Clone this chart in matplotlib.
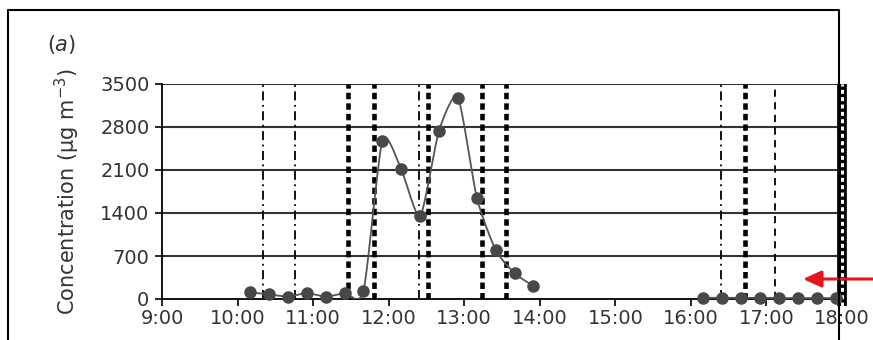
import matplotlib
matplotlib.use("Agg")
import matplotlib.pyplot as plt
from matplotlib.lines import Line2D
import numpy as np

# sample times (hours) and concentrations (ug m-3)
am_times = [10 + 10/60, 10 + 25/60, 10 + 40/60, 10 + 55/60, 11 + 10/60, 11 + 25/60,
            11 + 40/60, 11 + 55/60, 12 + 10/60, 12 + 25/60, 12 + 40/60, 12 + 55/60,
            13 + 10/60, 13 + 25/60, 13 + 40/60, 13 + 55/60]
am_conc = [110, 75, 40, 95, 40, 95, 130, 2580, 2110, 1350, 2740, 3280, 1650, 800, 420, 210]

pm_times = [16 + 10/60, 16 + 25/60, 16 + 40/60, 16 + 55/60, 17 + 10/60, 17 + 25/60,
            17 + 40/60, 17 + 55/60]
pm_conc = [20, 20, 20, 20, 15, 15, 15, 15]

# event markers
thin_events = [10 + 20/60, 10 + 46/60, 12 + 24/60, 16 + 24/60]
thick_events = [11 + 28/60, 11 + 48/60, 12 + 31/60, 13 + 14/60, 13 + 33/60, 16 + 43/60]
dashed_events = [17 + 7/60]
end_event = 18.0

x_ticks = list(range(9, 19))
x_labels = ["%d:00" % h for h in x_ticks]
y_ticks = [0, 700, 1400, 2100, 2800, 3500]

TXT = "#333333"


def smooth(xs, ys, n=20, k=9.0):
    # bezier smoothing like a spreadsheet "smoothed line"
    p = np.column_stack([xs, ys]).astype(float)
    p = np.vstack([p[0], p, p[-1]])
    out = []
    for i in range(1, len(p) - 2):
        p0, p1, p2, p3 = p[i - 1], p[i], p[i + 1], p[i + 2]
        c1 = p1 + (p2 - p0) / k
        c2 = p2 - (p3 - p1) / k
        t = np.linspace(0, 1, n)[:, None]
        seg = ((1 - t) ** 3) * p1 + 3 * ((1 - t) ** 2) * t * c1 + 3 * (1 - t) * t ** 2 * c2 + t ** 3 * p2
        out.append(seg)
    out = np.vstack(out)
    return out[:, 0], out[:, 1]


fig = plt.figure(figsize=(8.73, 3.4), dpi=100)
ax = fig.add_axes([162 / 873, 1 - 299 / 340, 680 / 873, 215 / 340])

for v in y_ticks[1:]:
    ax.axhline(v, color="#333333", lw=1.5, zorder=1)

for t in thin_events:
    ax.axvline(t, color="black", lw=1.3, linestyle=(0, (5, 2.5, 1, 2.5)), zorder=2)
for t in thick_events:
    ax.axvline(t, color="black", lw=3.3, linestyle=(0, (1.4, 0.9)), zorder=2)
for t in dashed_events:
    ax.axvline(t, color="black", lw=1.3, linestyle=(0, (4, 3)), zorder=2)
ax.plot([end_event, end_event], [-110, 3500], color="black", lw=7, clip_on=False, zorder=2,
        solid_capstyle="butt")
ax.plot([end_event, end_event], [-110, 3500], color="white", lw=2.2, clip_on=False, zorder=2,
        linestyle=(0, (1.3, 1.1)))

for xs, ys in [(am_times, am_conc), (pm_times, pm_conc)]:
    sx, sy = smooth(xs, ys)
    ax.plot(sx, sy, color="#555555", lw=1.3, zorder=3)
    ax.plot(xs, ys, "o", color="#484848", ms=8, zorder=4, clip_on=False)

ax.set_xlim(9, 18)
ax.set_ylim(0, 3500)
ax.set_xticks(x_ticks)
ax.set_xticklabels(x_labels)
ax.set_yticks(y_ticks)
ax.tick_params(axis="both", labelsize=14, colors=TXT, direction="out", length=5, width=1.2,
               color="black")
ax.tick_params(axis="x", pad=2)
ax.tick_params(axis="y", pad=4)
for s in ["top", "right"]:
    ax.spines[s].set_visible(False)
for s in ["left", "bottom"]:
    ax.spines[s].set_color("black")
    ax.spines[s].set_linewidth(1.3)

ax.set_ylabel("Concentration (\u00b5g m$^{-3}$)", fontsize=15, color=TXT)
ax.yaxis.set_label_coords(-0.118, 0.5)

fig.text(47 / 873, 1 - 45 / 340, "(", fontsize=15, color=TXT, ha="left", va="center")
fig.text(54 / 873, 1 - 45 / 340, "a", fontsize=15, color=TXT, ha="left", va="center",
         style="italic")
fig.text(67 / 873, 1 - 45 / 340, ")", fontsize=15, color=TXT, ha="left", va="center")

# panel frame, open at the bottom
fx0, fx1, fy1 = 8 / 873, 839 / 873, 1 - 10 / 340
fig.add_artist(Line2D([fx0, fx0, fx1, fx1], [0, fy1, fy1, 0], color="black", lw=1.5,
                      transform=fig.transFigure))

ax.annotate("", xy=(803 / 873, 1 - 279 / 340), xytext=(1.0, 1 - 279 / 340),
            xycoords="figure fraction", textcoords="figure fraction",
            arrowprops=dict(arrowstyle="-|>,head_length=1.1,head_width=0.5", color="#e8141c",
                            lw=2.2, shrinkA=0, shrinkB=0))

fig.savefig("out.png", dpi=100)
